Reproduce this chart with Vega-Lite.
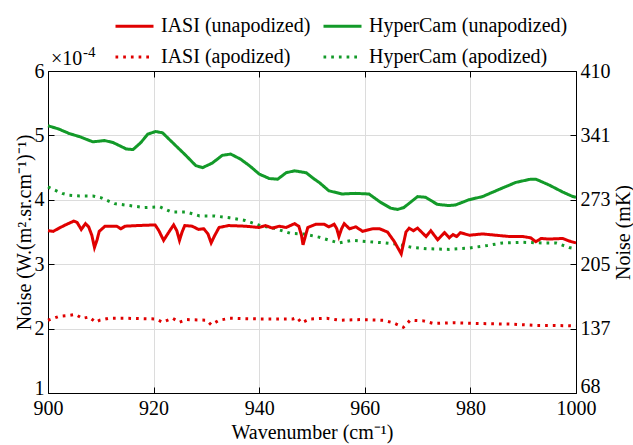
{
  "$schema": "https://vega.github.io/schema/vega-lite/v6.json",
  "width": 528,
  "height": 322,
  "autosize": {"type": "none"},
  "padding": {"left": 48, "top": 71, "right": 57, "bottom": 52},
  "background": "white",
  "config": {
    "font": "Liberation Serif",
    "view": {"stroke": "#000", "strokeWidth": 1},
    "text": {"font": "Liberation Serif"},
    "axis": {
      "labelFont": "Liberation Serif",
      "titleFont": "Liberation Serif",
      "labelFontSize": 20,
      "titleFontSize": 20,
      "titleFontWeight": "normal",
      "labelColor": "#000",
      "titleColor": "#000",
      "domainColor": "#000",
      "tickColor": "#000",
      "gridColor": "#dcdcdc",
      "gridWidth": 1
    },
    "legend": {
      "orient": "none",
      "legendX": 66,
      "legendY": -65.5,
      "columns": 2,
      "symbolType": "stroke",
      "symbolSize": 1444,
      "symbolStrokeWidth": 3,
      "labelFont": "Liberation Serif",
      "labelFontSize": 20,
      "labelColor": "#000",
      "labelOffset": 6,
      "columnPadding": 6,
      "rowPadding": -7,
      "labelLimit": 400
    }
  },
  "datasets": {
    "curves": [
      {"series": "HyperCam (unapodized)", "wavenumber": 900, "noise": 0.000515},
      {"series": "HyperCam (unapodized)", "wavenumber": 902, "noise": 0.000510},
      {"series": "HyperCam (unapodized)", "wavenumber": 904, "noise": 0.000503},
      {"series": "HyperCam (unapodized)", "wavenumber": 906, "noise": 0.000498},
      {"series": "HyperCam (unapodized)", "wavenumber": 908.5, "noise": 0.000490},
      {"series": "HyperCam (unapodized)", "wavenumber": 910.7, "noise": 0.000492},
      {"series": "HyperCam (unapodized)", "wavenumber": 912.3, "noise": 0.000489},
      {"series": "HyperCam (unapodized)", "wavenumber": 914.8, "noise": 0.000479},
      {"series": "HyperCam (unapodized)", "wavenumber": 916.1, "noise": 0.000478},
      {"series": "HyperCam (unapodized)", "wavenumber": 917.6, "noise": 0.000489},
      {"series": "HyperCam (unapodized)", "wavenumber": 918.9, "noise": 0.000502},
      {"series": "HyperCam (unapodized)", "wavenumber": 920.4, "noise": 0.000506},
      {"series": "HyperCam (unapodized)", "wavenumber": 921.7, "noise": 0.000504},
      {"series": "HyperCam (unapodized)", "wavenumber": 924.2, "noise": 0.000484},
      {"series": "HyperCam (unapodized)", "wavenumber": 926.1, "noise": 0.000469},
      {"series": "HyperCam (unapodized)", "wavenumber": 928, "noise": 0.000453},
      {"series": "HyperCam (unapodized)", "wavenumber": 929.3, "noise": 0.000450},
      {"series": "HyperCam (unapodized)", "wavenumber": 931.1, "noise": 0.000457},
      {"series": "HyperCam (unapodized)", "wavenumber": 933, "noise": 0.000469},
      {"series": "HyperCam (unapodized)", "wavenumber": 934.6, "noise": 0.000471},
      {"series": "HyperCam (unapodized)", "wavenumber": 936.5, "noise": 0.000463},
      {"series": "HyperCam (unapodized)", "wavenumber": 938.3, "noise": 0.000452},
      {"series": "HyperCam (unapodized)", "wavenumber": 940, "noise": 0.000440},
      {"series": "HyperCam (unapodized)", "wavenumber": 941.9, "noise": 0.000433},
      {"series": "HyperCam (unapodized)", "wavenumber": 943.5, "noise": 0.000432},
      {"series": "HyperCam (unapodized)", "wavenumber": 945.1, "noise": 0.000442},
      {"series": "HyperCam (unapodized)", "wavenumber": 946.7, "noise": 0.000445},
      {"series": "HyperCam (unapodized)", "wavenumber": 948.9, "noise": 0.000442},
      {"series": "HyperCam (unapodized)", "wavenumber": 950.3, "noise": 0.000433},
      {"series": "HyperCam (unapodized)", "wavenumber": 951.5, "noise": 0.000426},
      {"series": "HyperCam (unapodized)", "wavenumber": 953.2, "noise": 0.000414},
      {"series": "HyperCam (unapodized)", "wavenumber": 955.7, "noise": 0.000409},
      {"series": "HyperCam (unapodized)", "wavenumber": 958.2, "noise": 0.000410},
      {"series": "HyperCam (unapodized)", "wavenumber": 960.8, "noise": 0.000409},
      {"series": "HyperCam (unapodized)", "wavenumber": 963, "noise": 0.000396},
      {"series": "HyperCam (unapodized)", "wavenumber": 964.9, "noise": 0.000387},
      {"series": "HyperCam (unapodized)", "wavenumber": 966.2, "noise": 0.000385},
      {"series": "HyperCam (unapodized)", "wavenumber": 967.4, "noise": 0.000388},
      {"series": "HyperCam (unapodized)", "wavenumber": 970, "noise": 0.000405},
      {"series": "HyperCam (unapodized)", "wavenumber": 971.5, "noise": 0.000404},
      {"series": "HyperCam (unapodized)", "wavenumber": 973.7, "noise": 0.000393},
      {"series": "HyperCam (unapodized)", "wavenumber": 975.9, "noise": 0.000391},
      {"series": "HyperCam (unapodized)", "wavenumber": 977.2, "noise": 0.000392},
      {"series": "HyperCam (unapodized)", "wavenumber": 979.7, "noise": 0.000400},
      {"series": "HyperCam (unapodized)", "wavenumber": 982.3, "noise": 0.000405},
      {"series": "HyperCam (unapodized)", "wavenumber": 985.4, "noise": 0.000416},
      {"series": "HyperCam (unapodized)", "wavenumber": 988.6, "noise": 0.000427},
      {"series": "HyperCam (unapodized)", "wavenumber": 991.4, "noise": 0.000432},
      {"series": "HyperCam (unapodized)", "wavenumber": 992.4, "noise": 0.000432},
      {"series": "HyperCam (unapodized)", "wavenumber": 994.9, "noise": 0.000423},
      {"series": "HyperCam (unapodized)", "wavenumber": 997.5, "noise": 0.000412},
      {"series": "HyperCam (unapodized)", "wavenumber": 999.4, "noise": 0.000405},
      {"series": "HyperCam (unapodized)", "wavenumber": 1000, "noise": 0.000404},

      {"series": "HyperCam (apodized)", "wavenumber": 900, "noise": 0.000420},
      {"series": "HyperCam (apodized)", "wavenumber": 901.3, "noise": 0.000415},
      {"series": "HyperCam (apodized)", "wavenumber": 902.7, "noise": 0.000410},
      {"series": "HyperCam (apodized)", "wavenumber": 904, "noise": 0.000407},
      {"series": "HyperCam (apodized)", "wavenumber": 906, "noise": 0.000406},
      {"series": "HyperCam (apodized)", "wavenumber": 908.5, "noise": 0.000406},
      {"series": "HyperCam (apodized)", "wavenumber": 910.1, "noise": 0.000403},
      {"series": "HyperCam (apodized)", "wavenumber": 912.6, "noise": 0.000394},
      {"series": "HyperCam (apodized)", "wavenumber": 915.5, "noise": 0.000391},
      {"series": "HyperCam (apodized)", "wavenumber": 918.3, "noise": 0.000388},
      {"series": "HyperCam (apodized)", "wavenumber": 921.2, "noise": 0.000389},
      {"series": "HyperCam (apodized)", "wavenumber": 923.4, "noise": 0.000381},
      {"series": "HyperCam (apodized)", "wavenumber": 926.2, "noise": 0.000381},
      {"series": "HyperCam (apodized)", "wavenumber": 928.7, "noise": 0.000375},
      {"series": "HyperCam (apodized)", "wavenumber": 931.5, "noise": 0.000375},
      {"series": "HyperCam (apodized)", "wavenumber": 934.4, "noise": 0.000372},
      {"series": "HyperCam (apodized)", "wavenumber": 937.3, "noise": 0.000368},
      {"series": "HyperCam (apodized)", "wavenumber": 940.2, "noise": 0.000360},
      {"series": "HyperCam (apodized)", "wavenumber": 942.7, "noise": 0.000356},
      {"series": "HyperCam (apodized)", "wavenumber": 945.9, "noise": 0.000348},
      {"series": "HyperCam (apodized)", "wavenumber": 948.4, "noise": 0.000347},
      {"series": "HyperCam (apodized)", "wavenumber": 951.3, "noise": 0.000342},
      {"series": "HyperCam (apodized)", "wavenumber": 955.1, "noise": 0.000333},
      {"series": "HyperCam (apodized)", "wavenumber": 957.6, "noise": 0.000337},
      {"series": "HyperCam (apodized)", "wavenumber": 960.5, "noise": 0.000335},
      {"series": "HyperCam (apodized)", "wavenumber": 963.9, "noise": 0.000333},
      {"series": "HyperCam (apodized)", "wavenumber": 966.2, "noise": 0.000331},
      {"series": "HyperCam (apodized)", "wavenumber": 969, "noise": 0.000326},
      {"series": "HyperCam (apodized)", "wavenumber": 971.9, "noise": 0.000324},
      {"series": "HyperCam (apodized)", "wavenumber": 976, "noise": 0.000323},
      {"series": "HyperCam (apodized)", "wavenumber": 979.7, "noise": 0.000325},
      {"series": "HyperCam (apodized)", "wavenumber": 983.2, "noise": 0.000329},
      {"series": "HyperCam (apodized)", "wavenumber": 986.1, "noise": 0.000333},
      {"series": "HyperCam (apodized)", "wavenumber": 989.9, "noise": 0.000334},
      {"series": "HyperCam (apodized)", "wavenumber": 993.7, "noise": 0.000333},
      {"series": "HyperCam (apodized)", "wavenumber": 996.2, "noise": 0.000333},
      {"series": "HyperCam (apodized)", "wavenumber": 998.7, "noise": 0.000326},
      {"series": "HyperCam (apodized)", "wavenumber": 1000, "noise": 0.000324},

      {"series": "IASI (unapodized)", "wavenumber": 900, "noise": 0.000352},
      {"series": "IASI (unapodized)", "wavenumber": 901, "noise": 0.000351},
      {"series": "IASI (unapodized)", "wavenumber": 902.1, "noise": 0.000356},
      {"series": "IASI (unapodized)", "wavenumber": 903.3, "noise": 0.000361},
      {"series": "IASI (unapodized)", "wavenumber": 904.9, "noise": 0.000367},
      {"series": "IASI (unapodized)", "wavenumber": 905.5, "noise": 0.000365},
      {"series": "IASI (unapodized)", "wavenumber": 906.3, "noise": 0.000354},
      {"series": "IASI (unapodized)", "wavenumber": 907.1, "noise": 0.000363},
      {"series": "IASI (unapodized)", "wavenumber": 907.7, "noise": 0.000358},
      {"series": "IASI (unapodized)", "wavenumber": 908.3, "noise": 0.000345},
      {"series": "IASI (unapodized)", "wavenumber": 908.8, "noise": 0.000326},
      {"series": "IASI (unapodized)", "wavenumber": 909.3, "noise": 0.000338},
      {"series": "IASI (unapodized)", "wavenumber": 909.7, "noise": 0.000351},
      {"series": "IASI (unapodized)", "wavenumber": 910.8, "noise": 0.000359},
      {"series": "IASI (unapodized)", "wavenumber": 913, "noise": 0.000359},
      {"series": "IASI (unapodized)", "wavenumber": 913.8, "noise": 0.000355},
      {"series": "IASI (unapodized)", "wavenumber": 914.6, "noise": 0.000359},
      {"series": "IASI (unapodized)", "wavenumber": 917, "noise": 0.000360},
      {"series": "IASI (unapodized)", "wavenumber": 920.3, "noise": 0.000361},
      {"series": "IASI (unapodized)", "wavenumber": 921, "noise": 0.000352},
      {"series": "IASI (unapodized)", "wavenumber": 921.9, "noise": 0.000337},
      {"series": "IASI (unapodized)", "wavenumber": 922.9, "noise": 0.000350},
      {"series": "IASI (unapodized)", "wavenumber": 923.8, "noise": 0.000361},
      {"series": "IASI (unapodized)", "wavenumber": 924.4, "noise": 0.000352},
      {"series": "IASI (unapodized)", "wavenumber": 924.9, "noise": 0.000337},
      {"series": "IASI (unapodized)", "wavenumber": 925.4, "noise": 0.000350},
      {"series": "IASI (unapodized)", "wavenumber": 925.9, "noise": 0.000360},
      {"series": "IASI (unapodized)", "wavenumber": 927.3, "noise": 0.000359},
      {"series": "IASI (unapodized)", "wavenumber": 928.5, "noise": 0.000354},
      {"series": "IASI (unapodized)", "wavenumber": 929.5, "noise": 0.000355},
      {"series": "IASI (unapodized)", "wavenumber": 930.3, "noise": 0.000347},
      {"series": "IASI (unapodized)", "wavenumber": 930.9, "noise": 0.000333},
      {"series": "IASI (unapodized)", "wavenumber": 931.6, "noise": 0.000345},
      {"series": "IASI (unapodized)", "wavenumber": 932.4, "noise": 0.000357},
      {"series": "IASI (unapodized)", "wavenumber": 934.2, "noise": 0.000360},
      {"series": "IASI (unapodized)", "wavenumber": 937.4, "noise": 0.000359},
      {"series": "IASI (unapodized)", "wavenumber": 940, "noise": 0.000357},
      {"series": "IASI (unapodized)", "wavenumber": 941.2, "noise": 0.000360},
      {"series": "IASI (unapodized)", "wavenumber": 942.5, "noise": 0.000356},
      {"series": "IASI (unapodized)", "wavenumber": 943.8, "noise": 0.000359},
      {"series": "IASI (unapodized)", "wavenumber": 945.1, "noise": 0.000357},
      {"series": "IASI (unapodized)", "wavenumber": 946.7, "noise": 0.000363},
      {"series": "IASI (unapodized)", "wavenumber": 947.5, "noise": 0.000359},
      {"series": "IASI (unapodized)", "wavenumber": 948, "noise": 0.000345},
      {"series": "IASI (unapodized)", "wavenumber": 948.3, "noise": 0.000330},
      {"series": "IASI (unapodized)", "wavenumber": 948.7, "noise": 0.000342},
      {"series": "IASI (unapodized)", "wavenumber": 949.2, "noise": 0.000357},
      {"series": "IASI (unapodized)", "wavenumber": 950.7, "noise": 0.000362},
      {"series": "IASI (unapodized)", "wavenumber": 952.3, "noise": 0.000362},
      {"series": "IASI (unapodized)", "wavenumber": 953.2, "noise": 0.000358},
      {"series": "IASI (unapodized)", "wavenumber": 954.2, "noise": 0.000362},
      {"series": "IASI (unapodized)", "wavenumber": 954.7, "noise": 0.000355},
      {"series": "IASI (unapodized)", "wavenumber": 955.1, "noise": 0.000343},
      {"series": "IASI (unapodized)", "wavenumber": 955.6, "noise": 0.000355},
      {"series": "IASI (unapodized)", "wavenumber": 956.1, "noise": 0.000363},
      {"series": "IASI (unapodized)", "wavenumber": 957.1, "noise": 0.000355},
      {"series": "IASI (unapodized)", "wavenumber": 958.3, "noise": 0.000358},
      {"series": "IASI (unapodized)", "wavenumber": 959.6, "noise": 0.000351},
      {"series": "IASI (unapodized)", "wavenumber": 961.5, "noise": 0.000355},
      {"series": "IASI (unapodized)", "wavenumber": 962.8, "noise": 0.000355},
      {"series": "IASI (unapodized)", "wavenumber": 964.3, "noise": 0.000350},
      {"series": "IASI (unapodized)", "wavenumber": 965.6, "noise": 0.000335},
      {"series": "IASI (unapodized)", "wavenumber": 966.9, "noise": 0.000316},
      {"series": "IASI (unapodized)", "wavenumber": 967.8, "noise": 0.000350},
      {"series": "IASI (unapodized)", "wavenumber": 968.4, "noise": 0.000356},
      {"series": "IASI (unapodized)", "wavenumber": 969.2, "noise": 0.000352},
      {"series": "IASI (unapodized)", "wavenumber": 970, "noise": 0.000356},
      {"series": "IASI (unapodized)", "wavenumber": 971.6, "noise": 0.000343},
      {"series": "IASI (unapodized)", "wavenumber": 972.5, "noise": 0.000352},
      {"series": "IASI (unapodized)", "wavenumber": 973.8, "noise": 0.000338},
      {"series": "IASI (unapodized)", "wavenumber": 975.1, "noise": 0.000349},
      {"series": "IASI (unapodized)", "wavenumber": 976, "noise": 0.000341},
      {"series": "IASI (unapodized)", "wavenumber": 976.7, "noise": 0.000346},
      {"series": "IASI (unapodized)", "wavenumber": 977.4, "noise": 0.000343},
      {"series": "IASI (unapodized)", "wavenumber": 978.1, "noise": 0.000349},
      {"series": "IASI (unapodized)", "wavenumber": 979.8, "noise": 0.000345},
      {"series": "IASI (unapodized)", "wavenumber": 982.3, "noise": 0.000347},
      {"series": "IASI (unapodized)", "wavenumber": 984.8, "noise": 0.000345},
      {"series": "IASI (unapodized)", "wavenumber": 987.4, "noise": 0.000343},
      {"series": "IASI (unapodized)", "wavenumber": 989.9, "noise": 0.000343},
      {"series": "IASI (unapodized)", "wavenumber": 991.4, "noise": 0.000341},
      {"series": "IASI (unapodized)", "wavenumber": 992.4, "noise": 0.000335},
      {"series": "IASI (unapodized)", "wavenumber": 993.4, "noise": 0.000340},
      {"series": "IASI (unapodized)", "wavenumber": 994.9, "noise": 0.000339},
      {"series": "IASI (unapodized)", "wavenumber": 997.5, "noise": 0.000340},
      {"series": "IASI (unapodized)", "wavenumber": 998.7, "noise": 0.000336},
      {"series": "IASI (unapodized)", "wavenumber": 1000, "noise": 0.000333},

      {"series": "IASI (apodized)", "wavenumber": 900, "noise": 0.000213},
      {"series": "IASI (apodized)", "wavenumber": 902.1, "noise": 0.000219},
      {"series": "IASI (apodized)", "wavenumber": 903.5, "noise": 0.000220},
      {"series": "IASI (apodized)", "wavenumber": 905.2, "noise": 0.000222},
      {"series": "IASI (apodized)", "wavenumber": 906.5, "noise": 0.000216},
      {"series": "IASI (apodized)", "wavenumber": 907.8, "noise": 0.000218},
      {"series": "IASI (apodized)", "wavenumber": 909, "noise": 0.000210},
      {"series": "IASI (apodized)", "wavenumber": 909.8, "noise": 0.000213},
      {"series": "IASI (apodized)", "wavenumber": 911.6, "noise": 0.000216},
      {"series": "IASI (apodized)", "wavenumber": 915, "noise": 0.000216},
      {"series": "IASI (apodized)", "wavenumber": 920.4, "noise": 0.000215},
      {"series": "IASI (apodized)", "wavenumber": 921.7, "noise": 0.000210},
      {"series": "IASI (apodized)", "wavenumber": 923.6, "noise": 0.000216},
      {"series": "IASI (apodized)", "wavenumber": 924.9, "noise": 0.000210},
      {"series": "IASI (apodized)", "wavenumber": 926.2, "noise": 0.000214},
      {"series": "IASI (apodized)", "wavenumber": 930, "noise": 0.000213},
      {"series": "IASI (apodized)", "wavenumber": 930.9, "noise": 0.000206},
      {"series": "IASI (apodized)", "wavenumber": 932.4, "noise": 0.000213},
      {"series": "IASI (apodized)", "wavenumber": 934.4, "noise": 0.000216},
      {"series": "IASI (apodized)", "wavenumber": 940.1, "noise": 0.000215},
      {"series": "IASI (apodized)", "wavenumber": 946.4, "noise": 0.000215},
      {"series": "IASI (apodized)", "wavenumber": 947.2, "noise": 0.000217},
      {"series": "IASI (apodized)", "wavenumber": 948, "noise": 0.000209},
      {"series": "IASI (apodized)", "wavenumber": 949.6, "noise": 0.000215},
      {"series": "IASI (apodized)", "wavenumber": 952.8, "noise": 0.000216},
      {"series": "IASI (apodized)", "wavenumber": 955.3, "noise": 0.000213},
      {"series": "IASI (apodized)", "wavenumber": 959.1, "noise": 0.000214},
      {"series": "IASI (apodized)", "wavenumber": 963.5, "noise": 0.000213},
      {"series": "IASI (apodized)", "wavenumber": 965.4, "noise": 0.000209},
      {"series": "IASI (apodized)", "wavenumber": 967.3, "noise": 0.000202},
      {"series": "IASI (apodized)", "wavenumber": 968.6, "noise": 0.000213},
      {"series": "IASI (apodized)", "wavenumber": 971.1, "noise": 0.000212},
      {"series": "IASI (apodized)", "wavenumber": 973, "noise": 0.000208},
      {"series": "IASI (apodized)", "wavenumber": 976.7, "noise": 0.000209},
      {"series": "IASI (apodized)", "wavenumber": 981.2, "noise": 0.000208},
      {"series": "IASI (apodized)", "wavenumber": 987.5, "noise": 0.000207},
      {"series": "IASI (apodized)", "wavenumber": 992.5, "noise": 0.000205},
      {"series": "IASI (apodized)", "wavenumber": 996, "noise": 0.000205},
      {"series": "IASI (apodized)", "wavenumber": 1000, "noise": 0.000204}
    ],
    "note": [
      {"wavenumber": 900, "noise": 0.0006, "part": "base", "label": "×10"},
      {"wavenumber": 900, "noise": 0.0006, "part": "exponent", "label": "-4"}
    ]
  },
  "layer": [
    {
      "data": {"name": "curves"},
      "mark": {"type": "line", "strokeWidth": 3},
      "encoding": {
        "x": {
          "field": "wavenumber", "type": "quantitative",
          "scale": {"domain": [900, 1000], "nice": false, "zero": false},
          "axis": {
            "orient": "bottom",
            "values": [900, 920, 940, 960, 980, 1000],
            "format": "d",
            "title": "Wavenumber (cm⁻¹)",
            "grid": true,
            "tickSize": -6,
            "labelPadding": 11,
            "titlePadding": 4,
            "labelFlush": false
          }
        },
        "y": {
          "field": "noise", "type": "quantitative",
          "scale": {"domain": [0.0001, 0.0006], "nice": false, "zero": false},
          "axis": {
            "orient": "left",
            "values": [0.0001, 0.0002, 0.0003, 0.0004, 0.0005, 0.0006],
            "labelExpr": "format(datum.value * 10000, 'd')",
            "labelOffset": {"condition": {"test": "datum.value < 0.00015", "value": -5}, "value": 0},
            "title": "Noise (W.(m².sr.cm⁻¹)⁻¹)",
            "grid": true,
            "tickSize": -6,
            "labelPadding": 10,
            "titlePadding": 0,
            "labelFlush": false
          }
        },
        "color": {
          "field": "series", "type": "nominal",
          "scale": {
            "domain": ["IASI (unapodized)", "IASI (apodized)", "HyperCam (unapodized)", "HyperCam (apodized)"],
            "range": ["#e00000", "#e00000", "#139a29", "#139a29"]
          },
          "legend": {"title": null}
        },
        "strokeDash": {
          "field": "series", "type": "nominal",
          "scale": {
            "domain": ["IASI (unapodized)", "IASI (apodized)", "HyperCam (unapodized)", "HyperCam (apodized)"],
            "range": [[1, 0], [2.7, 5], [1, 0], [2.7, 5]]
          },
          "legend": {"title": null}
        }
      }
    },
    {
      "data": {"name": "note"},
      "transform": [{"filter": "datum.part === 'base'"}],
      "mark": {"type": "text", "align": "left", "baseline": "alphabetic", "dx": 3, "dy": -6, "fontSize": 20, "color": "#000"},
      "encoding": {
        "x": {
          "field": "wavenumber", "type": "quantitative",
          "axis": {
            "orient": "top",
            "values": [900, 920, 940, 960, 980, 1000],
            "labels": false,
            "title": null,
            "grid": false,
            "tickSize": -6
          }
        },
        "y": {
          "field": "noise", "type": "quantitative",
          "axis": {
            "orient": "right",
            "values": [0.0001, 0.0002, 0.0003, 0.0004, 0.0005, 0.0006],
            "labelExpr": "['', '68', '137', '205', '273', '341', '410'][round(datum.value * 10000)]",
            "labelOffset": {"condition": {"test": "datum.value < 0.00015", "value": -7}, "value": 0},
            "title": "Noise (mK)",
            "titleAngle": 270,
            "titleBaseline": "top",
            "grid": false,
            "tickSize": -6,
            "labelPadding": 10,
            "titlePadding": 3,
            "labelFlush": false
          }
        },
        "text": {"field": "label"}
      }
    },
    {
      "data": {"name": "note"},
      "transform": [{"filter": "datum.part === 'exponent'"}],
      "mark": {"type": "text", "align": "left", "baseline": "alphabetic", "dx": 35, "dy": -14, "fontSize": 15, "color": "#000"},
      "encoding": {
        "x": {"field": "wavenumber", "type": "quantitative", "axis": null},
        "y": {"field": "noise", "type": "quantitative", "axis": null},
        "text": {"field": "label"}
      }
    }
  ],
  "resolve": {"axis": {"x": "independent", "y": "independent"}}
}
